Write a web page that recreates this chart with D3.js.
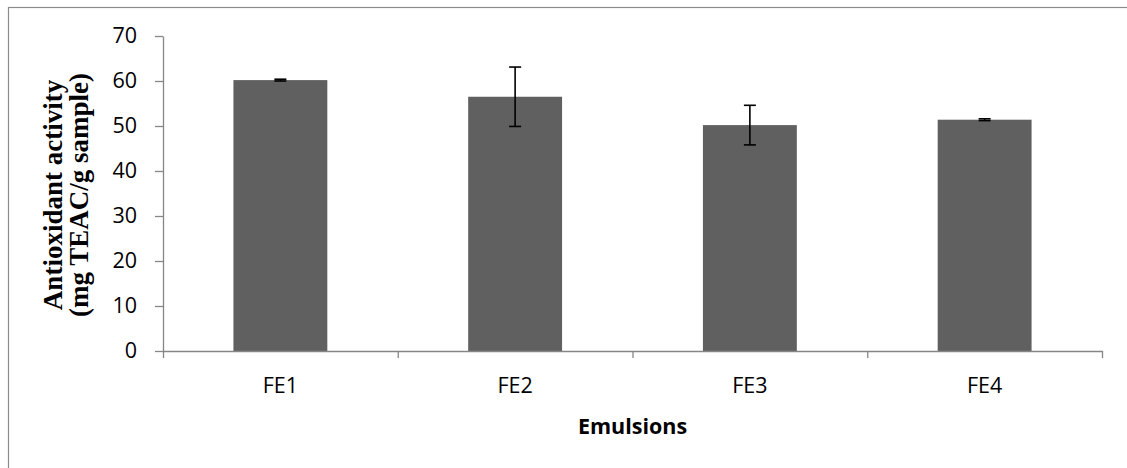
<!DOCTYPE html>
<html>
<head>
<meta charset="utf-8">
<title>Antioxidant activity</title>
<script src="https://cdn.jsdelivr.net/npm/d3@7/dist/d3.min.js"></script>
<style>
  html, body { margin: 0; padding: 0; background: #fff; }
  svg { display: block; }
  .tick text { font-family: "Open Sans", "Noto Sans", sans-serif; font-size: 21.5px; fill: #000; }
</style>
</head>
<body>
<svg id="chart" width="1127" height="468"></svg>
<script>
// data
var emulsions = ["FE1", "FE2", "FE3", "FE4"];
var activity = [60.2, 56.5, 50.2, 51.4];
var sd = [0.2, 6.6, 4.4, 0.2];
var yTicks = [0, 10, 20, 30, 40, 50, 60, 70];

var W = 1127, H = 468;
var margin = {left: 163, right: 25, top: 36, bottom: 117};

var svg = d3.select("#chart");

// outer frame (runs off the right and bottom edge)
svg.append("rect")
  .attr("x", 8.5).attr("y", 7.5)
  .attr("width", 1130).attr("height", 480)
  .attr("fill", "none").attr("stroke", "#8c8c8c").attr("stroke-width", 1.2);

var x = d3.scaleBand()
  .domain(emulsions)
  .range([margin.left, W - margin.right])
  .paddingInner(0.6).paddingOuter(0.3);

var y = d3.scaleLinear()
  .domain([0, 70])
  .range([H - margin.bottom, margin.top]);

var g = svg.append("g");

// bars
g.selectAll("rect.bar")
  .data(emulsions)
  .enter().append("rect")
  .attr("class", "bar")
  .attr("x", function(d) { return x(d); })
  .attr("width", x.bandwidth())
  .attr("y", function(d, i) { return y(activity[i]); })
  .attr("height", function(d, i) { return y(0) - y(activity[i]); })
  .attr("fill", "#606060");

// error bars
var cap = 6;
var err = g.selectAll("g.err")
  .data(emulsions)
  .enter().append("g")
  .attr("class", "err")
  .attr("stroke", "#000").attr("stroke-width", 1.6);
err.append("line")
  .attr("x1", function(d) { return x(d) + x.bandwidth() / 2; })
  .attr("x2", function(d) { return x(d) + x.bandwidth() / 2; })
  .attr("y1", function(d, i) { return y(activity[i] - sd[i]); })
  .attr("y2", function(d, i) { return y(activity[i] + sd[i]); });
err.append("line")
  .attr("x1", function(d) { return x(d) + x.bandwidth() / 2 - cap; })
  .attr("x2", function(d) { return x(d) + x.bandwidth() / 2 + cap; })
  .attr("y1", function(d, i) { return y(activity[i] + sd[i]); })
  .attr("y2", function(d, i) { return y(activity[i] + sd[i]); });
err.append("line")
  .attr("x1", function(d) { return x(d) + x.bandwidth() / 2 - cap; })
  .attr("x2", function(d) { return x(d) + x.bandwidth() / 2 + cap; })
  .attr("y1", function(d, i) { return y(activity[i] - sd[i]); })
  .attr("y2", function(d, i) { return y(activity[i] - sd[i]); });

// y axis
var yAxis = svg.append("g")
  .attr("transform", "translate(" + margin.left + ",0)")
  .call(d3.axisLeft(y).tickValues(yTicks).tickSize(8).tickPadding(18).tickSizeOuter(0));

// x axis, ticks between categories
var xLine = d3.scaleLinear().domain([0, 4]).range([margin.left, W - margin.right]);
var xAxis = svg.append("g")
  .attr("transform", "translate(0," + y(0) + ")")
  .call(d3.axisBottom(xLine).tickValues([0, 1, 2, 3, 4]).tickSize(7).tickFormat("").tickSizeOuter(0));

svg.selectAll(".domain, .tick line").attr("stroke", "#868686").attr("stroke-width", 1.3);

// category labels
svg.append("g").selectAll("text")
  .data(emulsions)
  .enter().append("text")
  .attr("x", function(d) { return x(d) + x.bandwidth() / 2; })
  .attr("y", 393)
  .attr("text-anchor", "middle")
  .attr("font-family", "'Open Sans', 'Noto Sans', sans-serif")
  .attr("font-size", 21.5)
  .text(function(d) { return d; });

// axis titles
svg.append("text")
  .attr("x", (margin.left + W - margin.right) / 2)
  .attr("y", 434)
  .attr("text-anchor", "middle")
  .attr("font-family", "'Open Sans', 'Noto Sans', sans-serif")
  .attr("font-weight", "bold")
  .attr("font-size", 21.5)
  .text("Emulsions");

var yt = svg.append("text")
  .attr("transform", "translate(62,195) rotate(-90)")
  .attr("text-anchor", "middle")
  .attr("font-family", "'Liberation Serif', 'Times New Roman', serif")
  .attr("font-weight", "bold")
  .attr("font-size", 27);
yt.append("tspan").attr("x", 0).attr("y", 0).text("Antioxidant activity");
yt.append("tspan").attr("x", 0).attr("y", 26).text("(mg TEAC/g sample)");
</script>
</body>
</html>
